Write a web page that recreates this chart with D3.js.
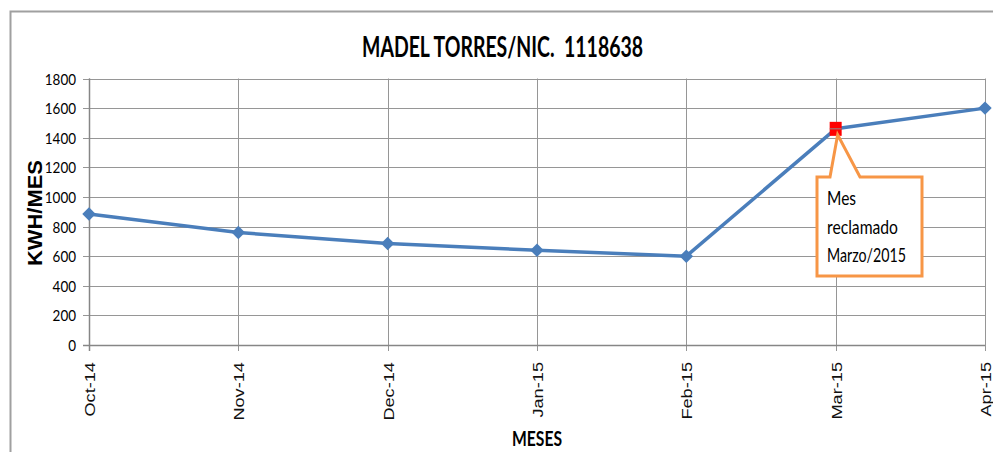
<!DOCTYPE html>
<html>
<head>
<meta charset="utf-8">
<script src="https://cdn.jsdelivr.net/npm/d3@7"></script>
<style>
  body { margin: 0; background: #fff; }
  svg { display: block; }
</style>
</head>
<body>
<svg id="chart" width="993" height="452"></svg>
<script>
// data
var months = ["Oct-14", "Nov-14", "Dec-14", "Jan-15", "Feb-15", "Mar-15", "Apr-15"];
var kwh = [885, 760, 685, 640, 600, 1460, 1600];
var yTicks = [0, 200, 400, 600, 800, 1000, 1200, 1400, 1600, 1800];
var highlightMonth = "Mar-15";
var calloutLines = ["Mes", "reclamado", "Marzo/2015"];

var svg = d3.select("#chart");
var calibriLike = "Lato, 'Open Sans', sans-serif";

// outer chart border
svg.append("path")
    .attr("d", "M10.5,452 L10.5,11.5 L993,11.5")
    .attr("fill", "none")
    .attr("stroke", "#a0a0a0")
    .attr("stroke-width", 2);

var x = d3.scalePoint().domain(months).range([89, 985]);
var y = d3.scaleLinear().domain([0, 1800]).range([345, 78.5]);

// horizontal gridlines
svg.append("g")
    .selectAll("line")
    .data(yTicks)
    .enter().append("line")
    .attr("x1", 83).attr("x2", 985)
    .attr("y1", function(d) { return Math.round(y(d)) + 0.5; })
    .attr("y2", function(d) { return Math.round(y(d)) + 0.5; })
    .attr("stroke", "#969696")
    .attr("stroke-width", 1);

// vertical gridlines
svg.append("g")
    .selectAll("line")
    .data(months)
    .enter().append("line")
    .attr("x1", function(d) { return Math.round(x(d)) + 0.5; })
    .attr("x2", function(d) { return Math.round(x(d)) + 0.5; })
    .attr("y1", y(1800)).attr("y2", 351)
    .attr("stroke", "#969696")
    .attr("stroke-width", 1);

// axis lines a bit heavier
svg.append("line")
    .attr("x1", 83).attr("x2", 985)
    .attr("y1", 345.5).attr("y2", 345.5)
    .attr("stroke", "#868686").attr("stroke-width", 1.5);
svg.append("line")
    .attr("x1", 89.5).attr("x2", 89.5)
    .attr("y1", y(1800)).attr("y2", 351)
    .attr("stroke", "#868686").attr("stroke-width", 1.5);

// y tick labels
svg.append("g")
    .selectAll("text")
    .data(yTicks)
    .enter().append("text")
    .attr("x", 76)
    .attr("y", function(d) { return y(d) + 6; })
    .attr("text-anchor", "end")
    .style("font-family", calibriLike)
    .style("font-size", "16px")
    .attr("textLength", function(d) { return String(d).length * 7.8; })
    .attr("lengthAdjust", "spacingAndGlyphs")
    .attr("fill", "#000")
    .text(function(d) { return d; });

// x tick labels, rotated and a little stretched
svg.append("g")
    .selectAll("text")
    .data(months)
    .enter().append("text")
    .attr("transform", function(d) {
        return "translate(" + (x(d) + 6) + ",362) rotate(-90) scale(1.3,1)";
    })
    .attr("text-anchor", "end")
    .style("font-family", "'Liberation Sans', Arial, sans-serif")
    .style("font-size", "14px")
    .attr("fill", "#111")
    .text(function(d) { return d; });

// title
svg.append("text")
    .attr("x", 362)
    .attr("y", 57)
    .attr("textLength", 281)
    .attr("lengthAdjust", "spacingAndGlyphs")
    .style("white-space", "pre")
    .style("font-family", calibriLike)
    .style("font-weight", "bold")
    .style("font-size", "28px")
    .text("MADEL TORRES/NIC.  1118638");

// axis titles
svg.append("text")
    .attr("transform", "translate(42,213) rotate(-90)")
    .attr("text-anchor", "middle")
    .attr("textLength", 106)
    .attr("lengthAdjust", "spacingAndGlyphs")
    .style("font-family", "'Liberation Sans', Arial, sans-serif")
    .style("font-weight", "bold")
    .style("font-size", "20px")
    .text("KWH/MES");

svg.append("text")
    .attr("x", 512)
    .attr("y", 446)
    .attr("textLength", 50)
    .attr("lengthAdjust", "spacingAndGlyphs")
    .style("font-family", calibriLike)
    .style("font-weight", "bold")
    .style("font-size", "21px")
    .text("MESES");

// series line
var data = months.map(function(m, i) { return { month: m, value: kwh[i] }; });

svg.append("path")
    .datum(data)
    .attr("fill", "none")
    .attr("stroke", "#4a7ebb")
    .attr("stroke-width", 3.5)
    .attr("stroke-linejoin", "round")
    .attr("d", d3.line()
        .x(function(d) { return x(d.month); })
        .y(function(d) { return y(d.value); }));

// diamond markers
svg.append("g")
    .selectAll("path")
    .data(data.filter(function(d) { return d.month !== highlightMonth; }))
    .enter().append("path")
    .attr("transform", function(d) { return "translate(" + x(d.month) + "," + y(d.value) + ")"; })
    .attr("d", d3.symbol().type(d3.symbolDiamond2).size(115))
    .attr("fill", "#4a7ebb");

// highlighted month
var hl = data.filter(function(d) { return d.month === highlightMonth; })[0];
var hx = x(hl.month), hy = y(hl.value);
svg.append("rect")
    .attr("x", hx - 6).attr("y", hy - 7)
    .attr("width", 12).attr("height", 14)
    .attr("fill", "#ff0000");
svg.append("line")
    .attr("x1", hx - 6).attr("x2", hx + 6)
    .attr("y1", hy).attr("y2", hy)
    .attr("stroke", "#8c8c8c").attr("stroke-width", 1);

// callout box with pointer
var bx0 = 817, bx1 = 922, by0 = 177, by1 = 276;
var tipX = hx + 2, tipY = hy + 6;
svg.append("path")
    .attr("d", "M" + bx0 + "," + by0 +
        " L" + (bx0 + 13) + "," + by0 +
        " L" + tipX + "," + tipY +
        " L" + (bx0 + 43) + "," + by0 +
        " L" + bx1 + "," + by0 +
        " L" + bx1 + "," + by1 +
        " L" + bx0 + "," + by1 + " Z")
    .attr("fill", "#fff")
    .attr("stroke", "#f79646")
    .attr("stroke-width", 3)
    .attr("stroke-linejoin", "miter");

var calloutWidths = [29, 71, 79];
svg.append("g")
    .selectAll("text")
    .data(calloutLines)
    .enter().append("text")
    .attr("x", 827)
    .attr("y", function(d, i) { return 205 + i * 28.5; })
    .attr("textLength", function(d, i) { return calloutWidths[i]; })
    .attr("lengthAdjust", "spacingAndGlyphs")
    .style("font-family", calibriLike)
    .style("font-size", "19px")
    .attr("fill", "#000")
    .text(function(d) { return d; });
</script>
</body>
</html>
